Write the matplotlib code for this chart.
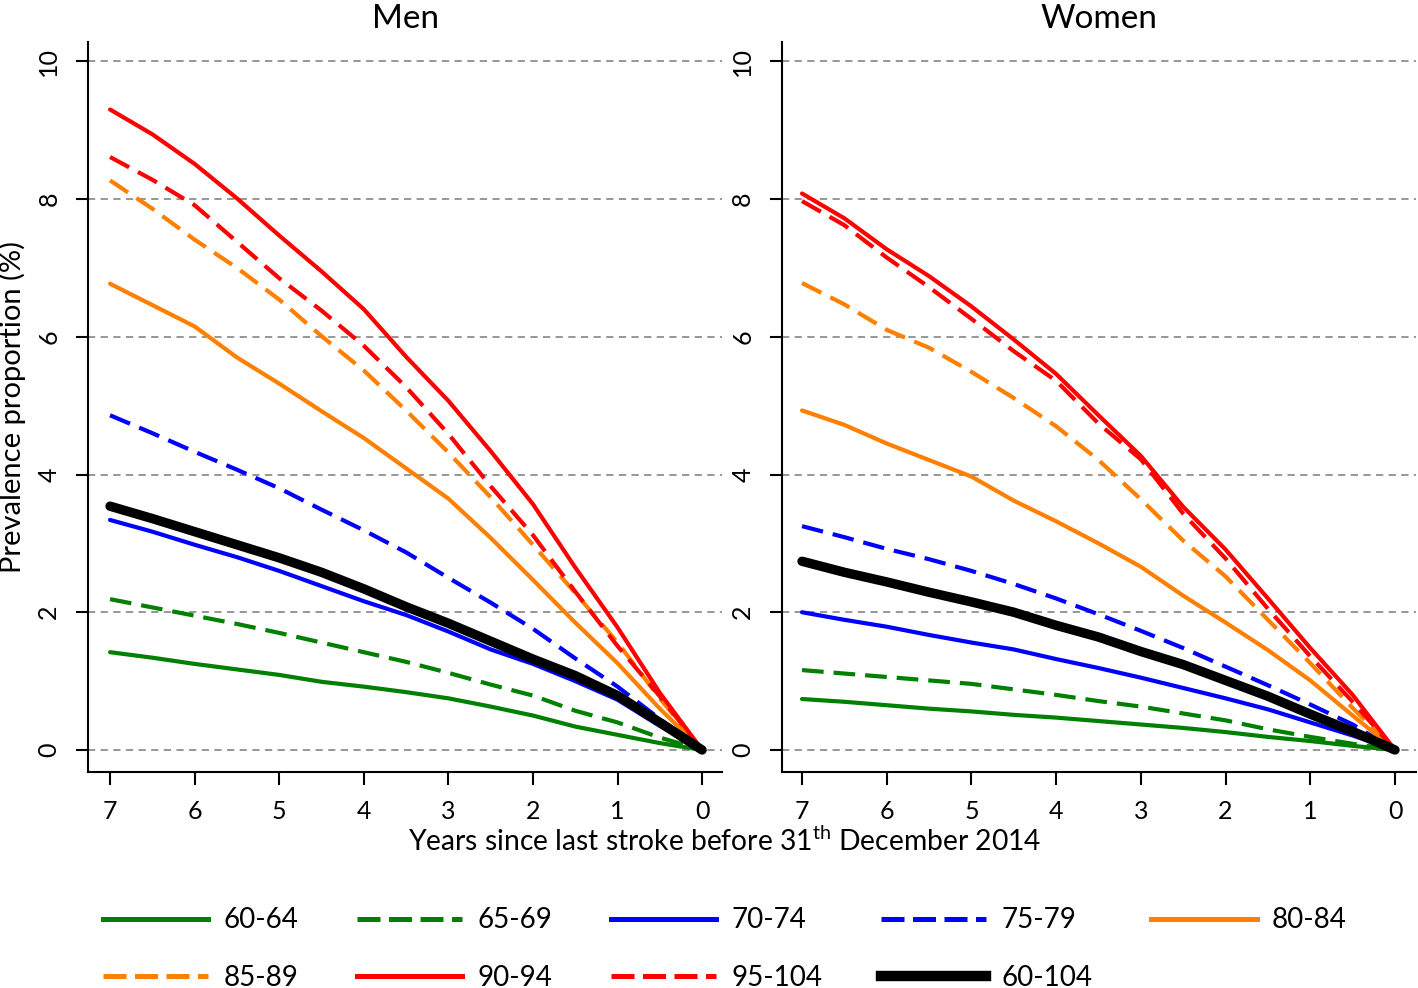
import numpy as np
import matplotlib
matplotlib.use("Agg")
import matplotlib.pyplot as plt
from matplotlib.lines import Line2D

plt.rcParams['font.family'] = ['Lato', 'DejaVu Sans']
plt.rcParams['mathtext.fontset'] = 'custom'
plt.rcParams['mathtext.rm'] = 'Lato'
plt.rcParams['mathtext.it'] = 'Lato:italic'

# years since last stroke (x axis runs from 7 down to 0)
years = [7, 6.5, 6, 5.5, 5, 4.5, 4, 3.5, 3, 2.5, 2, 1.5, 1, 0.5, 0]

groups = ["60-64", "65-69", "70-74", "75-79", "80-84",
          "85-89", "90-94", "95-104", "60-104"]

# prevalence proportion (%)
men = {
    "60-64":  [1.42, 1.34, 1.25, 1.17, 1.09, 0.99, 0.92, 0.84, 0.75, 0.63, 0.50, 0.34, 0.22, 0.10, 0],
    "65-69":  [2.19, 2.07, 1.95, 1.83, 1.70, 1.56, 1.42, 1.28, 1.12, 0.95, 0.79, 0.57, 0.40, 0.18, 0],
    "70-74":  [3.34, 3.17, 2.98, 2.80, 2.60, 2.38, 2.16, 1.96, 1.72, 1.46, 1.25, 1.00, 0.73, 0.35, 0],
    "75-79":  [4.86, 4.60, 4.33, 4.07, 3.80, 3.49, 3.19, 2.87, 2.50, 2.14, 1.76, 1.33, 0.92, 0.45, 0],
    "80-84":  [6.77, 6.46, 6.15, 5.70, 5.32, 4.92, 4.53, 4.09, 3.65, 3.08, 2.47, 1.85, 1.26, 0.60, 0],
    "85-89":  [8.27, 7.86, 7.41, 7.00, 6.54, 6.01, 5.51, 4.93, 4.32, 3.67, 2.98, 2.28, 1.56, 0.75, 0],
    "90-94":  [9.30, 8.94, 8.51, 8.01, 7.47, 6.95, 6.40, 5.71, 5.07, 4.34, 3.57, 2.65, 1.78, 0.83, 0],
    "95-104": [8.61, 8.28, 7.91, 7.38, 6.85, 6.38, 5.87, 5.27, 4.59, 3.83, 3.12, 2.30, 1.51, 0.78, 0],
    "60-104": [3.54, 3.36, 3.17, 2.98, 2.79, 2.58, 2.34, 2.08, 1.84, 1.58, 1.32, 1.08, 0.79, 0.40, 0],
}

women = {
    "60-64":  [0.74, 0.70, 0.65, 0.60, 0.56, 0.51, 0.47, 0.42, 0.37, 0.32, 0.26, 0.19, 0.13, 0.06, 0],
    "65-69":  [1.16, 1.11, 1.06, 1.01, 0.96, 0.88, 0.80, 0.71, 0.63, 0.53, 0.43, 0.30, 0.19, 0.09, 0],
    "70-74":  [2.00, 1.89, 1.79, 1.67, 1.56, 1.46, 1.32, 1.19, 1.05, 0.90, 0.75, 0.59, 0.40, 0.21, 0],
    "75-79":  [3.25, 3.09, 2.92, 2.77, 2.60, 2.41, 2.20, 1.97, 1.73, 1.48, 1.21, 0.94, 0.66, 0.37, 0],
    "80-84":  [4.93, 4.72, 4.45, 4.21, 3.97, 3.62, 3.32, 3.00, 2.66, 2.24, 1.85, 1.45, 1.01, 0.50, 0],
    "85-89":  [6.78, 6.47, 6.10, 5.84, 5.49, 5.11, 4.70, 4.21, 3.64, 3.04, 2.52, 1.89, 1.26, 0.61, 0],
    "90-94":  [8.08, 7.72, 7.27, 6.88, 6.44, 5.96, 5.46, 4.86, 4.27, 3.53, 2.91, 2.20, 1.48, 0.80, 0],
    "95-104": [7.97, 7.62, 7.15, 6.72, 6.26, 5.79, 5.36, 4.74, 4.22, 3.43, 2.78, 2.05, 1.36, 0.70, 0],
    "60-104": [2.74, 2.58, 2.44, 2.29, 2.15, 2.00, 1.81, 1.64, 1.43, 1.24, 1.01, 0.78, 0.52, 0.27, 0],
}

colors = {"60-64": "#008000", "65-69": "#008000", "70-74": "#0000ff", "75-79": "#0000ff",
          "80-84": "#ff8000", "85-89": "#ff8000", "90-94": "#ff0000", "95-104": "#ff0000",
          "60-104": "black"}
dashed = {"65-69", "75-79", "85-89", "95-104"}

fig = plt.figure(figsize=(14.18, 9.88), dpi=100)
ax1 = fig.add_axes([0.0621, 0.2186, 0.4471, 0.7389])
ax2 = fig.add_axes([0.5515, 0.2186, 0.4471, 0.7389])

for ax, data, title, xl in [(ax1, men, "Men", (7.26, -0.236)), (ax2, women, "Women", (7.236, -0.248))]:
    for y in range(0, 11, 2):
        ax.axhline(y, color="#8f8f8f", lw=1.3, ls=(0, (4, 3)), zorder=1)
    for g in groups:
        lw = 6.8 if g == "60-104" else 3.0
        ls = (0, (5.2, 2.4)) if g in dashed else "-"
        ax.plot(years, data[g], color=colors[g], lw=lw, ls=ls,
                solid_capstyle="round", zorder=3)
    ax.set_xlim(*xl)
    ax.set_ylim(-0.32, 10.28)
    ax.set_xticks(range(7, -1, -1))
    ax.set_yticks(range(0, 11, 2))
    ax.set_yticklabels([str(v) for v in range(0, 11, 2)], rotation=90, va="center")
    ax.tick_params(labelsize=18, length=9, width=1.5, pad=11)
    for s in ["top", "right"]:
        ax.spines[s].set_visible(False)
    for s in ["left", "bottom"]:
        ax.spines[s].set_linewidth(1.5)
    ax.set_title(title, fontsize=24, y=1.019, pad=0)

ax1.set_ylabel("Prevalence proportion (%)", fontsize=21, labelpad=8)
fig.text(0.511, 0.148, r"Years since last stroke before 31$^{\mathrm{th}}$ December 2014",
         ha="center", va="center", fontsize=20.3)

# legend: R-style, filled row by row
order = [0, 5, 1, 6, 2, 7, 3, 8, 4]
leg_handles = []
for i in order:
    g = groups[i]
    leg_handles.append(Line2D([], [], color=colors[g],
                              lw=7.5 if g == "60-104" else 3.6,
                              ls=(0, (4.6, 1.7)) if g in dashed else "-"))
fig.legend(leg_handles, [groups[i] for i in order], ncol=5, loc="center",
           bbox_to_anchor=(0.511, 0.0395), frameon=False, fontsize=20,
           handlelength=3.8, handletextpad=0.55, columnspacing=2.1, labelspacing=1.12)

fig.savefig("out.png", dpi=100)
